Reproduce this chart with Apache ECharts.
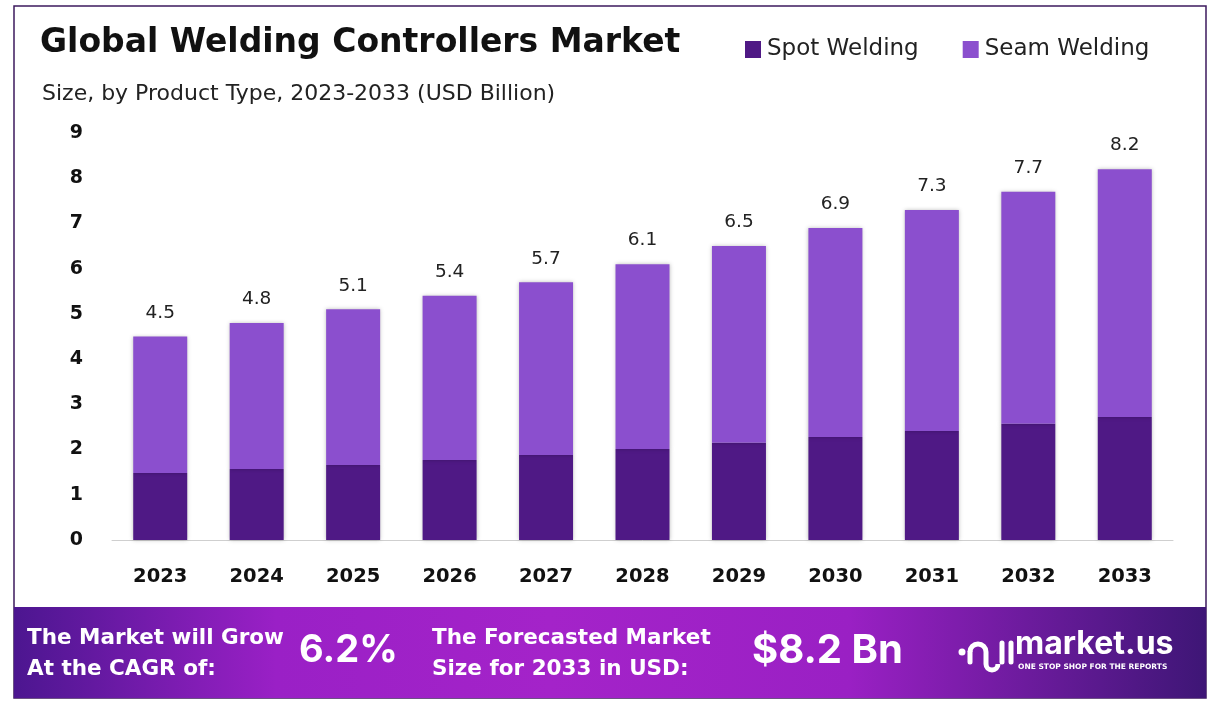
<!DOCTYPE html>
<html>
<head>
<meta charset="utf-8">
<script src="https://cdn.jsdelivr.net/npm/echarts@6/dist/echarts.min.js"></script>
<style>
html,body{margin:0;padding:0;background:#fff;}
#chart{width:1219px;height:726px;}
</style>
</head>
<body>
<div id="chart"></div>
<script>
const years = ['2023','2024','2025','2026','2027','2028','2029','2030','2031','2032','2033'];
const spotWelding = [1.48, 1.57, 1.66, 1.77, 1.88, 2.01, 2.15, 2.28, 2.41, 2.57, 2.72];
const seamWelding = [3.02, 3.23, 3.44, 3.63, 3.82, 4.09, 4.35, 4.62, 4.89, 5.13, 5.48];
const yTicks = [0, 1, 2, 3, 4, 5, 6, 7, 8, 9];
const cagrText = '6.2%';
const forecastText = '$8.2 Bn';

const FONT = 'Inter, "Open Sans", sans-serif';
const WIDE = '"DejaVu Sans", Inter, sans-serif';
const chart = echarts.init(document.getElementById('chart'));

const barShadow = { shadowBlur: 4, shadowColor: 'rgba(0,0,0,0.25)', shadowOffsetX: 0, shadowOffsetY: 0 };
const textShadow = { shadowBlur: 3, shadowColor: 'rgba(0,0,0,0.35)', shadowOffsetY: 1 };

chart.setOption({
  animation: false,
  backgroundColor: '#ffffff',
  title: [
    { text: 'Global Welding Controllers Market', left: 35, top: 22,
      textStyle: { fontFamily: WIDE, fontSize: 33, fontWeight: 700, color: '#111' } },
    { text: 'Size, by Product Type, 2023-2033 (USD Billion)', left: 37, top: 78,
      textStyle: { fontFamily: WIDE, fontSize: 22, fontWeight: 400, color: '#222' } }
  ],
  legend: {
    left: 740, top: 33,
    icon: 'rect', itemWidth: 16, itemHeight: 17, itemGap: 44,
    textStyle: { fontFamily: WIDE, fontSize: 23, color: '#222', padding: [0, 0, 0, 1] },
    data: ['Spot Welding', 'Seam Welding']
  },
  grid: { left: 112, right: 46, top: 133, bottom: 186, containLabel: false },
  xAxis: {
    type: 'category', data: years,
    axisLine: { show: true, lineStyle: { color: '#cfcfcf', width: 1 } },
    axisTick: { show: false },
    axisLabel: { margin: 27, fontFamily: WIDE, fontSize: 19.5, fontWeight: 700, color: '#111' }
  },
  yAxis: {
    type: 'value', min: yTicks[0], max: yTicks[yTicks.length - 1], interval: 1,
    axisLine: { show: false }, axisTick: { show: false },
    splitLine: { show: false },
    axisLabel: { margin: 29, fontFamily: WIDE, fontSize: 19, fontWeight: 700, color: '#111' }
  },
  series: [
    { name: 'Spot Welding', type: 'bar', stack: 'total', data: spotWelding, barWidth: 54,
      itemStyle: Object.assign({ color: '#4f1985' }, barShadow) },
    { name: 'Seam Welding', type: 'bar', stack: 'total', data: seamWelding, barWidth: 54,
      itemStyle: Object.assign({ color: '#8b4fce' }, barShadow),
      label: { show: true, position: 'top', distance: 14,
        fontFamily: WIDE, fontSize: 18.5, color: '#222',
        formatter: p => (spotWelding[p.dataIndex] + seamWelding[p.dataIndex]).toFixed(1) } }
  ],
  graphic: [
    { type: 'rect', x: 14, y: 6, z: -10, silent: true,
      shape: { x: 0, y: 0, width: 1192, height: 692 },
      style: { fill: 'transparent', stroke: '#3d1a5e', lineWidth: 1.5 } },
    { type: 'rect', x: 14, y: 607, z: 10, silent: true,
      shape: { x: 0, y: 0, width: 1192, height: 91 },
      style: { fill: new echarts.graphic.LinearGradient(0, 0, 1, 0, [
        { offset: 0, color: '#4c1690' },
        { offset: 0.22, color: '#9a20c6' },
        { offset: 0.45, color: '#a423c9' },
        { offset: 0.7, color: '#9a20c4' },
        { offset: 1, color: '#3e1676' }
      ]) } },
    { type: 'text', x: 27, y: 623, z: 20, silent: true,
      style: Object.assign({ text: 'The Market will Grow\nAt the CAGR of:', fill: '#fff', font: '700 21.5px ' + WIDE, lineHeight: 31 }, textShadow) },
    { type: 'text', x: 299, y: 632, z: 20, silent: true,
      style: { text: cagrText, fill: '#fff', font: '700 38px ' + FONT,
        shadowBlur: 4, shadowColor: 'rgba(0,0,0,0.4)', shadowOffsetY: 2 } },
    { type: 'text', x: 432, y: 623, z: 20, silent: true,
      style: Object.assign({ text: 'The Forecasted Market\nSize for 2033 in USD:', fill: '#fff', font: '700 21.5px ' + WIDE, lineHeight: 31 }, textShadow) },
    { type: 'text', x: 752, y: 631, z: 20, silent: true,
      style: { text: forecastText, fill: '#fff', font: '700 40px ' + FONT,
        shadowBlur: 4, shadowColor: 'rgba(0,0,0,0.4)', shadowOffsetY: 2 } },
    // logo icon approximation
    { type: 'circle', z: 20, silent: true, shape: { cx: 962, cy: 652, r: 3.5 }, style: { fill: '#fff' } },
    { type: 'line', z: 20, silent: true, shape: { x1: 970, y1: 662, x2: 970, y2: 652 },
      style: { stroke: '#fff', lineWidth: 5, lineCap: 'round' } },
    { type: 'arc', z: 20, silent: true, shape: { cx: 978, cy: 652, r: 8, startAngle: Math.PI, endAngle: 2 * Math.PI, clockwise: true },
      style: { fill: 'transparent', stroke: '#fff', lineWidth: 5 } },
    { type: 'line', z: 20, silent: true, shape: { x1: 986, y1: 652, x2: 986, y2: 664 },
      style: { stroke: '#fff', lineWidth: 5 } },
    { type: 'arc', z: 20, silent: true, shape: { cx: 992, cy: 664, r: 6, startAngle: Math.PI, endAngle: 0, clockwise: false },
      style: { fill: 'transparent', stroke: '#fff', lineWidth: 5 } },
    { type: 'line', z: 20, silent: true, shape: { x1: 1002, y1: 643, x2: 1002, y2: 662 },
      style: { stroke: '#fff', lineWidth: 5, lineCap: 'round' } },
    { type: 'line', z: 20, silent: true, shape: { x1: 1011, y1: 643, x2: 1011, y2: 662 },
      style: { stroke: '#fff', lineWidth: 5, lineCap: 'round' } },
    { type: 'text', x: 1015, y: 628, z: 20, silent: true,
      style: { text: 'market.us', fill: '#fff', font: '700 32px ' + FONT } },
    { type: 'text', x: 1018, y: 663, z: 20, silent: true,
      style: { text: 'ONE STOP SHOP FOR THE REPORTS', fill: '#fff', font: '700 7.5px ' + WIDE } }
  ]
});
</script>
</body>
</html>
